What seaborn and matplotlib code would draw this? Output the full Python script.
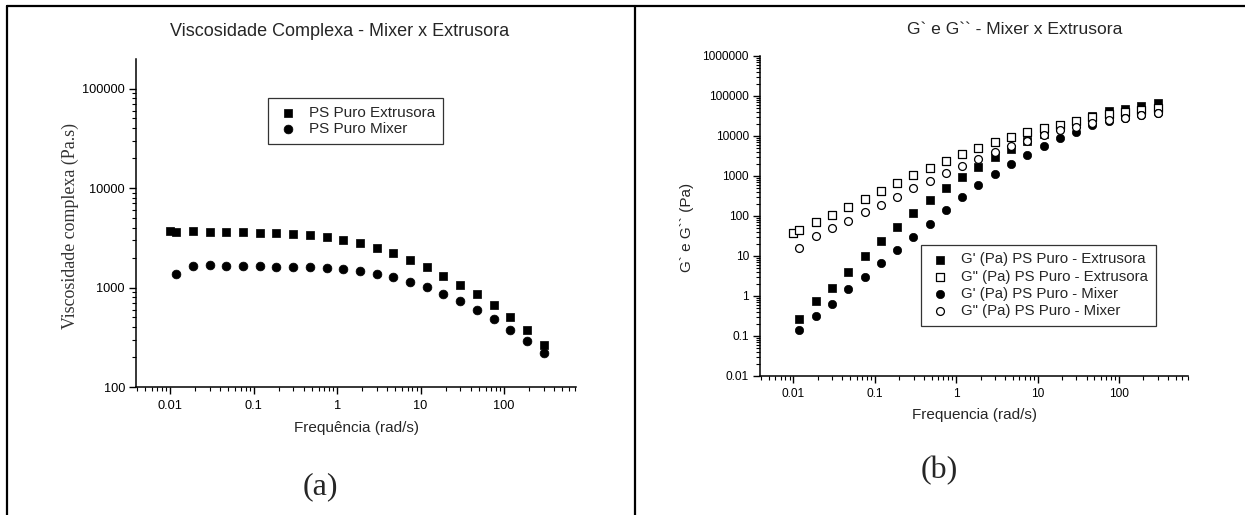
import matplotlib
matplotlib.use("Agg")
import matplotlib.pyplot as plt
from matplotlib.lines import Line2D
from matplotlib.ticker import LogLocator, NullFormatter, FixedLocator, FixedFormatter
import seaborn as sns
import pandas as pd
import numpy as np

# ---------------- data ----------------
freq_ext = [0.01, 0.0119, 0.0188, 0.0299, 0.0473, 0.075, 0.119, 0.188, 0.299, 0.473,
            0.75, 1.19, 1.88, 2.99, 4.73, 7.5, 11.9, 18.8, 29.9, 47.3, 75, 119, 188, 299]
freq_mix = freq_ext[1:]

visc_extrusora = [3715, 3575, 3660, 3575, 3575, 3575, 3550, 3490, 3440, 3365, 3185, 3020,
                  2775, 2510, 2200, 1905, 1610, 1310, 1070, 858, 666, 505, 372, 265]
visc_mixer = [1370, 1635, 1672, 1635, 1635, 1635, 1622, 1622, 1610, 1585, 1537, 1457,
              1380, 1268, 1148, 1015, 865, 730, 593, 479, 377, 291, 219]

g1_extrusora = [0.266, 0.75, 1.58, 3.98, 9.8, 23.7, 54, 121, 255, 501, 944, 1680, 2985,
                4730, 7300, 11500, 17000, 24000, 32000, 42000, 48000, 56000, 65600]
g2_extrusora = [36.9, 43.9, 70.8, 106, 171, 271, 422, 656, 1040, 1585, 2370, 3485, 5010,
                6950, 9440, 12590, 15500, 19300, 23300, 29300, 36000, 40000, 45000, 50000]
g1_mixer = [0.141, 0.31, 0.64, 1.5, 3.04, 6.56, 13.9, 30, 63, 139, 293, 585, 1100, 1995,
            3415, 5570, 8660, 12800, 18500, 24000, 29000, 34000, 38000]
g2_mixer = [16.2, 31, 50, 76.5, 124, 192, 304, 490, 760, 1167, 1810, 2710, 4060, 5730,
            7640, 10500, 14000, 16800, 21500, 24700, 28700, 32900, 36900]

x_ticks = [0.01, 0.1, 1, 10, 100]
x_ticklabels = ["0.01", "0.1", "1", "10", "100"]
yl_ticks = [100, 1000, 10000, 100000]
yl_ticklabels = ["100", "1000", "10000", "100000"]
yr_ticks = [0.01, 0.1, 1, 10, 100, 1000, 10000, 100000, 1000000]
yr_ticklabels = ["0.01", "0.1", "1", "10", "100", "1000", "10000", "100000", "1000000"]

# ---------------- style ----------------
sns.set_style("ticks")
plt.rcParams["font.family"] = ["Liberation Sans", "DejaVu Sans"]
SERIF = ["Liberation Serif", "DejaVu Serif"]

W, H = 1245, 515
fig = plt.figure(figsize=(W / 100, H / 100), dpi=100)


def fx(px):
    return px / W


def fy(py):
    return 1 - py / H


def style_axes(ax, xlim, ylim, yt, ytl, tsize, xpad):
    ax.set_xscale("log")
    ax.set_yscale("log")
    ax.set_xlim(*xlim)
    ax.set_ylim(*ylim)
    ax.xaxis.set_major_locator(FixedLocator(x_ticks))
    ax.xaxis.set_major_formatter(FixedFormatter(x_ticklabels))
    ax.yaxis.set_major_locator(FixedLocator(yt))
    ax.yaxis.set_major_formatter(FixedFormatter(ytl))
    ax.xaxis.set_minor_locator(LogLocator(base=10, subs=np.arange(2, 10), numticks=50))
    ax.yaxis.set_minor_locator(LogLocator(base=10, subs=np.arange(2, 10), numticks=50))
    ax.xaxis.set_minor_formatter(NullFormatter())
    ax.yaxis.set_minor_formatter(NullFormatter())
    sns.despine(ax=ax, top=True, right=True)
    for s in ("left", "bottom"):
        ax.spines[s].set_linewidth(1.1)
        ax.spines[s].set_color("black")
    ax.tick_params(which="major", direction="out", length=5, width=1.0, colors="black",
                   labelsize=tsize, pad=3)
    ax.tick_params(axis="x", which="major", pad=xpad)
    ax.tick_params(which="minor", direction="out", length=3, width=0.8, colors="black")
    ax.set_xlabel("")
    ax.set_ylabel("")
    ax.set_facecolor("white")


# ---------------- left panel ----------------
axL = fig.add_axes([fx(136), fy(387), fx(576) - fx(136), fy(59) - fy(387)])
sns.scatterplot(x=freq_ext, y=visc_extrusora, ax=axL, marker="s", s=32, color="black",
                edgecolor="black", linewidth=0.5, label="PS Puro Extrusora")
sns.scatterplot(x=freq_mix, y=visc_mixer, ax=axL, marker="o", s=40, color="black",
                edgecolor="black", linewidth=0.5, label="PS Puro Mixer")
style_axes(axL, (0.0039, 728), (100, 1.98e5), yl_ticks, yl_ticklabels, 9.2, 4.5)
legL = axL.legend(loc="upper left", bbox_to_anchor=(fx(268), fy(98)),
                  bbox_transform=fig.transFigure, fontsize=11, frameon=True,
                  fancybox=False, edgecolor="black", borderpad=0.5, handletextpad=0.6,
                  labelspacing=0.18, handlelength=1.6, borderaxespad=0)
legL.get_frame().set_linewidth(0.9)

# ---------------- right panel ----------------
axR = fig.add_axes([fx(760), fy(376), fx(1188) - fx(760), fy(56) - fy(376)])
sns.scatterplot(x=freq_mix, y=g1_extrusora, ax=axR, marker="s", s=30, color="black",
                edgecolor="black", linewidth=0.5, label="G' (Pa) PS Puro - Extrusora")
sns.scatterplot(x=freq_ext, y=g2_extrusora, ax=axR, marker="s", s=26, color="white",
                edgecolor="black", linewidth=0.9, label='G" (Pa) PS Puro - Extrusora')
sns.scatterplot(x=freq_mix, y=g1_mixer, ax=axR, marker="o", s=36, color="black",
                edgecolor="black", linewidth=0.5, label="G' (Pa) PS Puro - Mixer")
sns.scatterplot(x=freq_mix, y=g2_mixer, ax=axR, marker="o", s=32, color="white",
                edgecolor="black", linewidth=0.9, label='G" (Pa) PS Puro - Mixer')
style_axes(axR, (0.0039, 706), (0.01, 1e6), yr_ticks, yr_ticklabels, 8.6, 3.5)
legR = axR.legend(loc="upper left", bbox_to_anchor=(fx(921), fy(245)),
                  bbox_transform=fig.transFigure, fontsize=10.8, frameon=True,
                  fancybox=False, edgecolor="black", borderpad=0.5, handletextpad=0.63,
                  labelspacing=0.22, handlelength=1.55, borderaxespad=0)
legR.get_frame().set_linewidth(0.9)

# ---------------- texts ----------------
fig.text(fx(340), fy(31), "Viscosidade Complexa - Mixer x Extrusora", ha="center",
         va="center", fontsize=13)
fig.text(fx(1015), fy(29), "G` e G`` - Mixer x Extrusora", ha="center", va="center",
         fontsize=12.6)
fig.text(fx(70), fy(226), "Viscosidade complexa (Pa.s)", ha="center", va="center",
         rotation=90, fontsize=12.9, family=SERIF, color="#333333")
fig.text(fx(687), fy(227), "G` e G`` (Pa)", ha="center", va="center", rotation=90,
         fontsize=11)
fig.text(fx(356), fy(428), "Frequência (rad/s)", ha="center", va="center", fontsize=11)
fig.text(fx(974), fy(415), "Frequencia (rad/s)", ha="center", va="center", fontsize=11)
fig.text(fx(320), fy(487), "(a)", ha="center", va="center", fontsize=23, family=SERIF)
fig.text(fx(939), fy(471), "(b)", ha="center", va="center", fontsize=23, family=SERIF)

# ---------------- table borders ----------------
lw = 1.6
fig.add_artist(Line2D([fx(7), 1], [fy(6), fy(6)], color="black", lw=lw))
fig.add_artist(Line2D([fx(7), fx(7)], [fy(6), 0], color="black", lw=lw))
fig.add_artist(Line2D([fx(635), fx(635)], [fy(6), 0], color="black", lw=lw))

fig.savefig("out.png", dpi=100, facecolor="white")
